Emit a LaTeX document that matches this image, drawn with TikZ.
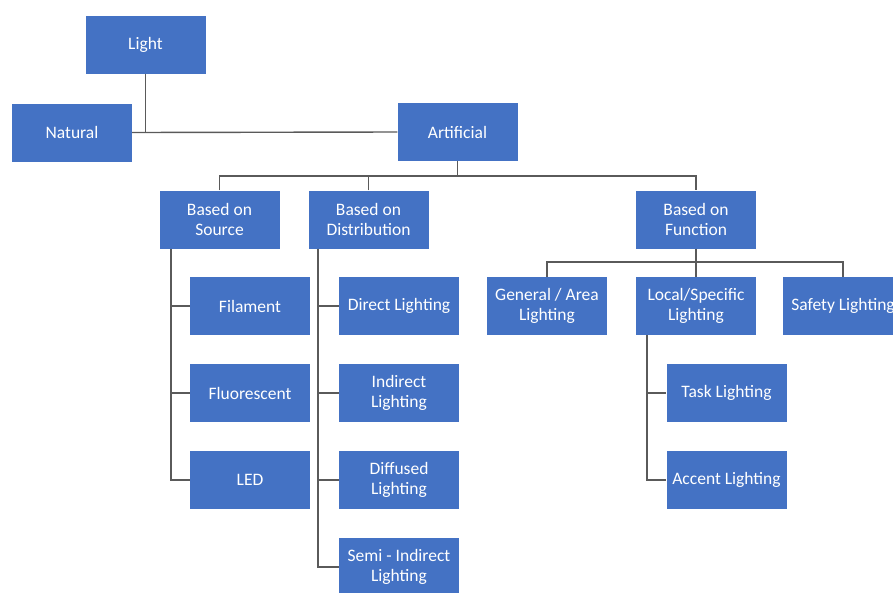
\documentclass[tikz,border=0pt]{standalone}
\usepackage{fontspec}
\setmainfont{Carlito}
\definecolor{boxblue}{HTML}{4472C4}
\definecolor{linegray}{HTML}{5A5A5A}
\begin{document}
\begin{tikzpicture}[x=1pt,y=-1pt,
  box/.style={draw=none,fill=boxblue,text=white,align=center,inner sep=0pt,
    minimum width=120pt,minimum height=58pt,font=\fontsize{17.5}{20}\selectfont},
  conn/.style={draw=linegray,line width=1.4pt}]
\useasboundingbox (0,0) rectangle (893,592);
\clip (0,0) rectangle (893,592);
\fill[white] (0,0) rectangle (893,592);
% top levels
\node[box] (light) at (145.5,44.5) {Light};
\node[box] (natural) at (72,132.5) {Natural};
\node[box] (artificial) at (457.5,132) {Artificial};
% second level
\node[box] (source) at (219.5,219.5) {Based on\\Source};
\node[box] (distribution) at (368.5,219.5) {Based on\\Distribution};
\node[box] (function) at (696,219.5) {Based on\\Function};
% source children
\node[box] (filament) at (250,306) {Filament};
\node[box] (fluorescent) at (250,393) {Fluorescent};
\node[box] (led) at (250,480) {LED};
% distribution children
\node[box] (direct) at (399,306) {Direct Lighting};
\node[box] (indirect) at (399,393) {Indirect\\Lighting};
\node[box] (diffused) at (399,480) {Diffused\\Lighting};
\node[box] (semi) at (399,567) {Semi - Indirect\\Lighting};
% function children
\node[box] (general) at (547,306) {General / Area\\Lighting};
\node[box] (local) at (696,306) {Local/Specific\\Lighting};
\node[box] (safety) at (843,306) {Safety Lighting};
\node[box] (task) at (726.5,393) {Task Lighting};
\node[box] (accent) at (726.5,480) {Accent Lighting};
% bus coordinates
\coordinate (b1) at (0,176);
\coordinate (b2) at (0,262);
\coordinate (sx) at (171,0);
\coordinate (dx) at (318,0);
\coordinate (lx) at (647,0);
% connectors
\draw[conn] (light.south) -- (light.south |- natural.east);
\draw[conn] (natural.east) -- (artificial.west);
\draw[conn] (artificial.south) -- (artificial.south |- b1);
\draw[conn] (source.north) -- (source.north |- b1) -- (function.north |- b1) -- (function.north);
\draw[conn] (distribution.north) -- (distribution.north |- b1);
% source
\draw[conn] (source.south -| sx) |- (led.west);
\draw[conn] (sx |- filament.west) -- (filament.west);
\draw[conn] (sx |- fluorescent.west) -- (fluorescent.west);
% distribution
\draw[conn] (distribution.south -| dx) |- (semi.west);
\draw[conn] (dx |- direct.west) -- (direct.west);
\draw[conn] (dx |- indirect.west) -- (indirect.west);
\draw[conn] (dx |- diffused.west) -- (diffused.west);
% function
\draw[conn] (function.south) -- (function.south |- b2);
\draw[conn] (general.north) -- (general.north |- b2) -- (safety.north |- b2) -- (safety.north);
\draw[conn] (local.north) -- (local.north |- b2);
% local
\draw[conn] (local.south -| lx) |- (accent.west);
\draw[conn] (lx |- task.west) -- (task.west);
\end{tikzpicture}
\end{document}
